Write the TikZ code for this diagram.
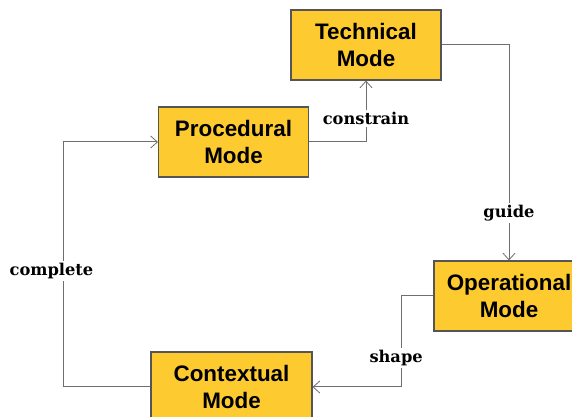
\documentclass[tikz,border=0pt]{standalone}
\usepackage{fontspec}
\setmainfont{Liberation Sans}
\newfontfamily\labelfont{DejaVu Serif}
\usetikzlibrary{arrows.meta}
\definecolor{modefill}{RGB}{253,202,48}
\definecolor{modeline}{RGB}{85,85,85}
\definecolor{connline}{RGB}{110,110,110}
\tikzset{
  modebox/.style={draw=modeline, line width=0.8pt, fill=modefill,
    minimum width=112.5pt, minimum height=52.5pt, align=center,
    font=\fontsize{16.8}{20.2}\selectfont\bfseries, inner sep=0pt},
  conn/.style={draw=connline, line width=0.75pt,
    -{Straight Barb[length=5pt,width=9pt,line width=0.6pt]}},
  lbl/.style={fill=white, inner sep=1.5pt,
    font=\labelfont\fontsize{12.2}{14}\selectfont\bfseries}
}
\begin{document}
\begin{tikzpicture}[x=0.75pt, y=-0.75pt]
  \useasboundingbox (0,0) rectangle (572,417);
  % the four modes
  \node[modebox] (tech) at (366,45) {Technical\\Mode};
  \node[modebox] (proc) at (233.5,142) {Procedural\\Mode};
  \node[modebox] (oper) at (509,296) {Operational\\Mode};
  \node[modebox, minimum width=120.75pt] (ctx) at (231.5,387) {Contextual\\Mode};
  % connectors between modes
  \draw[conn] (proc.east) -| node[lbl, pos=0.69] {constrain} (tech.south);
  \draw[conn] (tech.east) -| node[lbl, pos=0.89] {guide} (oper.north);
  \draw[conn] (oper.west) -- ++(-32,0) |- node[lbl, pos=0.34, xshift=-4pt] {shape} (ctx.east);
  \draw[conn] (ctx.west) -- ++(-87,0) |- node[lbl, pos=0.237, xshift=-9pt] {complete} (proc.west);
\end{tikzpicture}
\end{document}
